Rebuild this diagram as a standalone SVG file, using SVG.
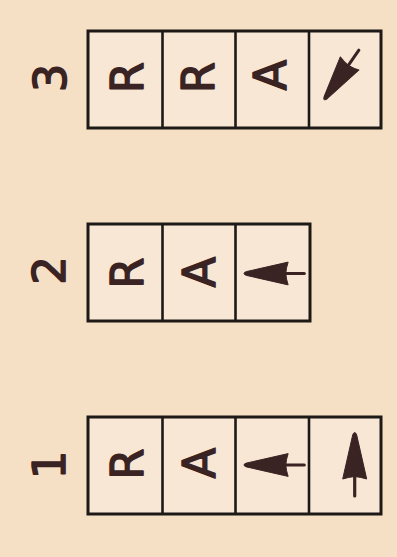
<svg xmlns="http://www.w3.org/2000/svg" width="397" height="557" viewBox="0 0 397 557">
<style>
.bg{fill:#f6e0c5}
.box{fill:#f8e7d4;stroke:#1d1917;stroke-width:3}
.div{stroke:#1d1917;stroke-width:2.6}
.t{font-family:"DejaVu Sans",sans-serif;font-size:45px;fill:#3a2323;stroke:#3a2323;stroke-width:1.5;stroke-linejoin:round;text-anchor:middle}
.arw{fill:#3a2323;stroke:#3a2323;stroke-width:1;stroke-linejoin:round}
.stem{stroke:#3a2323;stroke-width:3.2;stroke-linecap:round}
</style>
<defs>
<g id="arrow">
<path class="arw" d="M0,0.5 Q1.2,0.5 2,3 L12,47 Q6,45 0,44.5 Q-6,45 -12,47 L-2,3 Q-1.2,0.5 0,0.5 Z"/>
<line class="stem" x1="0" y1="44" x2="0" y2="64"/>
</g>
</defs>
<rect class="bg" x="0" y="0" width="397" height="557"/>

<g id="head3">
<rect class="box" x="88" y="31" width="293" height="97"/>
<line class="div" x1="162.5" y1="31" x2="162.5" y2="128"/>
<line class="div" x1="235.5" y1="31" x2="235.5" y2="128"/>
<line class="div" x1="309" y1="31" x2="309" y2="128"/>
<text class="t" transform="translate(50,78) rotate(-90)" y="16.4">3</text>
<text class="t" transform="translate(127,77.5) rotate(-90)" y="16.4">R</text>
<text class="t" transform="translate(198,77.5) rotate(-90)" y="16.4">R</text>
<text class="t" transform="translate(270,75) rotate(-90)" y="16.4">A</text>
<use href="#arrow" transform="translate(324,100) rotate(-145) scale(0.95)"/>
</g>

<g id="head2">
<rect class="box" x="88" y="224" width="222" height="97"/>
<line class="div" x1="162.5" y1="224" x2="162.5" y2="321"/>
<line class="div" x1="235.5" y1="224" x2="235.5" y2="321"/>
<text class="t" transform="translate(49,270.5) rotate(-90)" y="16.4">2</text>
<text class="t" transform="translate(127,273) rotate(-90)" y="16.4">R</text>
<text class="t" transform="translate(198.5,272) rotate(-90)" y="16.4">A</text>
<use href="#arrow" transform="translate(243.5,273.5) rotate(-90) scale(0.95)"/>
</g>

<g id="head1">
<rect class="box" x="88" y="417" width="293" height="97"/>
<line class="div" x1="162.5" y1="417" x2="162.5" y2="514"/>
<line class="div" x1="235.5" y1="417" x2="235.5" y2="514"/>
<line class="div" x1="309" y1="417" x2="309" y2="514"/>
<text class="t" transform="translate(49,465) rotate(-90)" y="16.4">1</text>
<text class="t" transform="translate(127,464) rotate(-90)" y="16.4">R</text>
<text class="t" transform="translate(199,463) rotate(-90)" y="16.4">A</text>
<use href="#arrow" transform="translate(243.5,465) rotate(-90) scale(0.95)"/>
<use href="#arrow" transform="translate(354.7,432)"/>
</g>

<g id="connectors"></g>
</svg>
